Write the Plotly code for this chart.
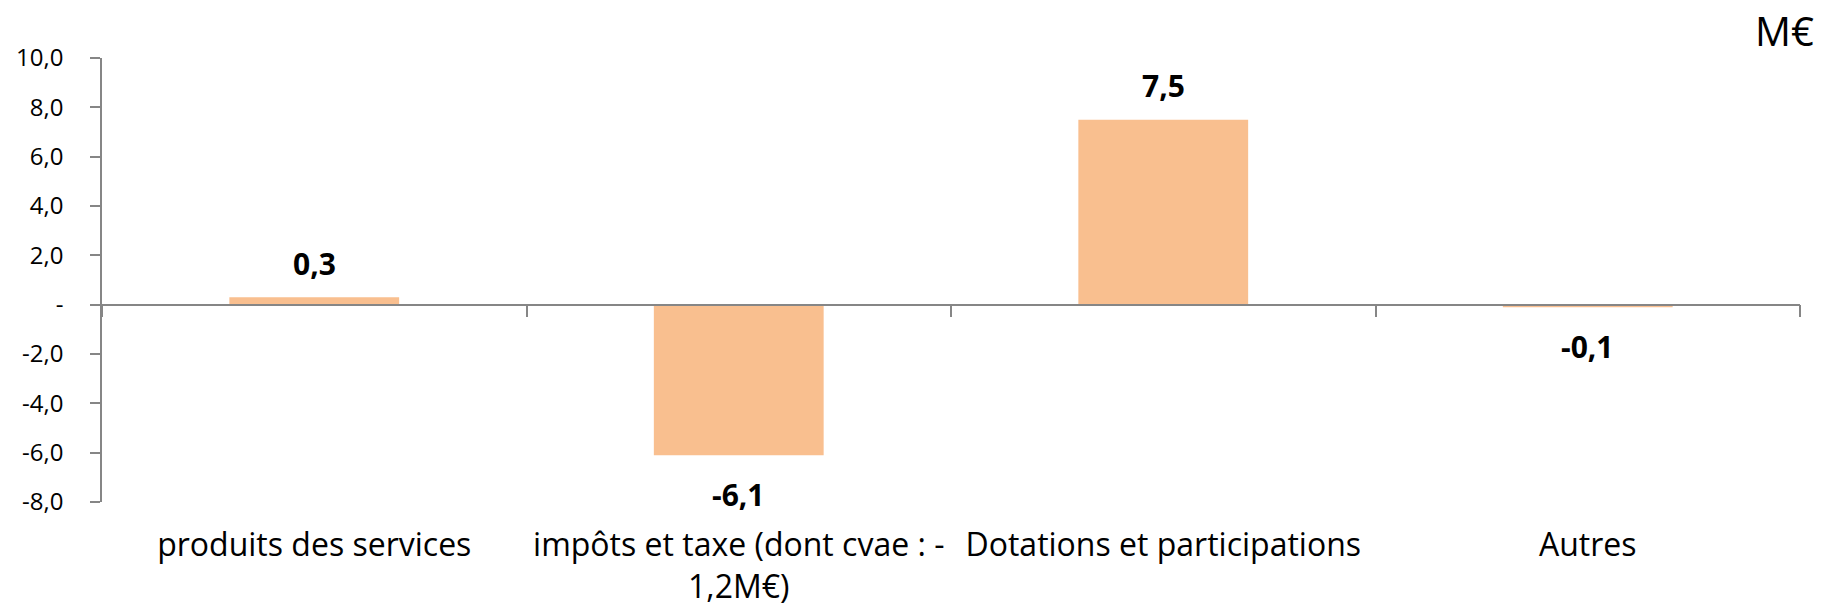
import plotly.graph_objects as go

categories = ["produits des services", "impôts et taxe (dont cvae : -<br>1,2M€)",
              "Dotations et participations", "Autres"]
values = [0.3, -6.1, 7.5, -0.1]
value_labels = ["0,3", "-6,1", "7,5", "-0,1"]
y_tickvals = [-8, -6, -4, -2, 0, 2, 4, 6, 8, 10]
y_ticktext = ["-8,0", "-6,0", "-4,0", "-2,0", "-", "2,0", "4,0", "6,0", "8,0", "10,0"]
unit_label = "M€"

FONT = "Open Sans"
AXIS_COLOR = "#868686"
BAR_COLOR = "#F9BF8F"

fig = go.Figure()
# invisible trace so the bottom label axis is drawn
fig.add_trace(go.Scatter(x=categories, y=values, mode="markers", marker=dict(opacity=0),
                         hoverinfo="skip", showlegend=False, xaxis="x", yaxis="y"))
fig.add_trace(go.Bar(x=categories, y=values, marker=dict(color=BAR_COLOR, line=dict(width=0)),
                     showlegend=False, xaxis="x2", yaxis="y"))

annotations = []
for c, v, t in zip(categories, values, value_labels):
    annotations.append(dict(x=c, y=v, xref="x2", yref="y", text=t, showarrow=False,
                            yanchor="middle", yshift=34 if v >= 0 else -39,
                            font=dict(family=FONT, size=30, color="#000000", weight="bold")))
annotations.append(dict(x=1.0, y=1.0, xref="paper", yref="paper", text=unit_label,
                        showarrow=False, xanchor="right", yanchor="middle",
                        xshift=16, yshift=28,
                        font=dict(family=FONT, size=40, color="#000000")))

ymin, ymax = -8, 10
zero_pos = (0 - ymin) / (ymax - ymin)

fig.update_layout(
    width=1822, height=611,
    margin=dict(l=102, r=22, t=58, b=109, autoexpand=False),
    paper_bgcolor="white", plot_bgcolor="white",
    bargap=0.6,
    annotations=annotations,
    xaxis=dict(type="category", categoryorder="array", categoryarray=categories,
               range=[-0.5, 3.5], showline=False, ticks="", showgrid=False, zeroline=False,
               tickangle=0, ticklabelstandoff=21, automargin=False,
               tickfont=dict(family=FONT, size=32, color="#000000")),
    xaxis2=dict(type="category", categoryorder="array", categoryarray=categories,
                range=[-0.5, 3.5], overlaying="x", anchor="free", position=zero_pos,
                side="bottom", showline=True, linecolor=AXIS_COLOR, linewidth=1.5,
                ticks="outside", tickson="boundaries", ticklen=12, tickcolor=AXIS_COLOR,
                tickwidth=1.5, showticklabels=False, showgrid=False, zeroline=False,
                automargin=False),
    yaxis=dict(range=[ymin, ymax], tickvals=y_tickvals, ticktext=y_ticktext,
               showline=True, linecolor=AXIS_COLOR, linewidth=1.5, ticks="outside",
               ticklen=10, tickcolor=AXIS_COLOR, tickwidth=1.5, showgrid=False,
               zeroline=False, ticklabelstandoff=22, automargin=False,
               tickfont=dict(family=FONT, size=24, color="#000000")),
)

fig.write_html("out.html", config={"displayModeBar": False},
               post_script="document.body.style.margin='0';document.body.style.overflow='hidden';")
